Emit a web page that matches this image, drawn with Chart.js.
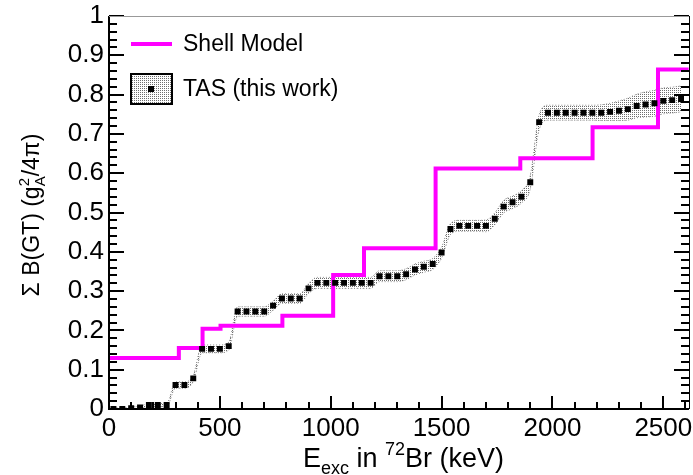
<!DOCTYPE html>
<html lang="en">
<head>
<meta charset="UTF-8">
<title>Sum B(GT) 72Br</title>
<script src="https://cdn.jsdelivr.net/npm/chart.js"></script>
<style>
  body { margin: 0; background: #fff; }
  #wrap { width: 693px; height: 475px; }
</style>
</head>
<body>
<div id="wrap"><canvas id="c" width="693" height="475"></canvas></div>
<script>
// TAS, 40 keV bins (keV)
const tasEnergy = [20, 60, 100, 140, 180, 220, 260, 300, 340, 380,
  420, 460, 500, 540, 580, 620, 660, 700, 740, 780,
  820, 860, 900, 940, 980, 1020, 1060, 1100, 1140, 1180,
  1220, 1260, 1300, 1340, 1380, 1420, 1460, 1500, 1540, 1580,
  1620, 1660, 1700, 1740, 1780, 1820, 1860, 1900, 1940, 1980,
  2020, 2060, 2100, 2140, 2180, 2220, 2260, 2300, 2340, 2380,
  2420, 2460, 2500, 2540, 2580];
const tasBgt = [0.000, 0.000, 0.002, 0.004, 0.010, 0.010, 0.010, 0.061, 0.061, 0.078,
  0.153, 0.153, 0.153, 0.160, 0.248, 0.248, 0.248, 0.248, 0.263, 0.281,
  0.281, 0.281, 0.307, 0.321, 0.321, 0.321, 0.321, 0.321, 0.321, 0.321,
  0.338, 0.338, 0.338, 0.343, 0.355, 0.362, 0.369, 0.398, 0.458, 0.466,
  0.466, 0.466, 0.466, 0.484, 0.515, 0.526, 0.540, 0.577, 0.730, 0.754,
  0.754, 0.754, 0.754, 0.754, 0.754, 0.754, 0.756, 0.759, 0.763, 0.771,
  0.775, 0.778, 0.784, 0.786, 0.789];
const tasErr = [0.003, 0.003, 0.003, 0.003, 0.004, 0.004, 0.004, 0.008, 0.008, 0.008,
  0.010, 0.010, 0.010, 0.010, 0.012, 0.012, 0.012, 0.012, 0.012, 0.012,
  0.012, 0.012, 0.013, 0.014, 0.014, 0.014, 0.014, 0.014, 0.014, 0.014,
  0.014, 0.014, 0.014, 0.014, 0.014, 0.014, 0.014, 0.014, 0.014, 0.014,
  0.014, 0.014, 0.015, 0.015, 0.016, 0.016, 0.016, 0.017, 0.019, 0.019,
  0.019, 0.019, 0.019, 0.019, 0.019, 0.020, 0.022, 0.025, 0.028, 0.030,
  0.032, 0.033, 0.033, 0.033, 0.033];

// shell model, value holds from each energy to the next
const smEnergy = [0, 315, 422, 503, 782, 1011, 1150, 1473, 1855, 2181, 2476, 2615];
const smBgt = [0.130, 0.155, 0.204, 0.212, 0.237, 0.341, 0.409, 0.612, 0.638, 0.717, 0.864, 0.864];

const xTicks = [0, 500, 1000, 1500, 2000, 2500];
const yTicks = [0, 0.1, 0.2, 0.3, 0.4, 0.5, 0.6, 0.7, 0.8, 0.9, 1];
const xRange = [0, 2615];

const FONT = '"Liberation Sans", Arial, sans-serif';

const ctx = document.getElementById('c').getContext('2d');

// ROOT-like dotted fill for the error band
function dotPattern() {
  const p = document.createElement('canvas');
  p.width = 2; p.height = 2;
  const g = p.getContext('2d');
  g.fillStyle = '#6e6e6e';
  g.fillRect(0, 0, 1, 1);
  return ctx.createPattern(p, 'repeat');
}
const bandFill = dotPattern();

const pts = (xs, ys) => xs.map((x, i) => ({ x: x, y: ys[i] }));
const tasLow = tasBgt.map((v, i) => v - tasErr[i]);
const tasHigh = tasBgt.map((v, i) => v + tasErr[i]);

// inward ticks + frame, drawn from the scales
function drawFrame(chart) {
  const c = chart.ctx, a = chart.chartArea;
  const xs = chart.scales.x, ys = chart.scales.y;
  const L = Math.round(a.left), R = Math.round(a.right), B = Math.round(a.bottom), T = Math.round(a.top);
  c.save();
  c.fillStyle = '#000';
  for (let v = 0; v <= xRange[1]; v += 100) {
    const px = Math.round(xs.getPixelForValue(v));
    const len = v % 500 === 0 ? 13 : 7;
    c.fillRect(px - 1, B - len, 2, len);
  }
  for (let k = 0; k <= 50; k++) {
    const py = Math.round(ys.getPixelForValue(k / 50));
    const len = k % 5 === 0 ? 15 : 8;
    c.fillRect(L, py - 1, len, 2);
    c.fillRect(R - len, py - 1, len, 2);
  }
  c.fillRect(L - 1, T, 2, B - T + 1);
  c.fillRect(L - 1, B - 1, R - L + 1, 2);
  c.fillRect(R, T, 1, B - T);
  c.fillStyle = '#999';
  c.fillRect(L, T, R - L, 1);
  c.restore();
}

// axis titles and legend
const labels = {
  id: 'labels',
  afterDraw(chart) {
    drawFrame(chart);
    const c = chart.ctx;
    const sm = chart.data.datasets[1], tas = chart.data.datasets[0];
    c.save();
    c.setLineDash([]);
    c.fillStyle = '#000';
    c.textBaseline = 'alphabetic';

    // x title: E_exc in 72Br (keV)
    let x = 303;
    const big = '27px ' + FONT, small = '18px ' + FONT;
    c.font = big; c.fillText('E', x, 467); x += c.measureText('E').width;
    c.font = small; c.fillText('exc', x, 474); x += c.measureText('exc').width;
    c.font = big; c.fillText(' in ', x, 467); x += c.measureText(' in ').width;
    c.font = small; c.fillText('72', x, 455); x += c.measureText('72').width;
    c.font = big; c.fillText('Br (keV)', x, 467);

    // y title: Σ B(GT) (g_A^2/4π)
    const ybig = '23px ' + FONT, ysmall = '15px ' + FONT;
    c.translate(39, 215);
    c.rotate(-Math.PI / 2);
    c.font = ybig;
    const p1 = 'Σ B(GT) (g', p3 = '/4π)';
    const w1 = c.measureText(p1).width, w3 = c.measureText(p3).width;
    c.font = ysmall;
    const w2 = Math.max(c.measureText('A').width, c.measureText('2').width);
    let t = -(w1 + w2 + w3) / 2;
    c.font = ybig; c.fillText(p1, t, 0); t += w1;
    c.font = ysmall; c.fillText('2', t, -10); c.fillText('A', t, 6); t += w2;
    c.font = ybig; c.fillText(p3, t, 0);
    c.setTransform(1, 0, 0, 1, 0, 0);

    // legend
    c.strokeStyle = sm.borderColor;
    c.lineWidth = 4;
    c.beginPath(); c.moveTo(131, 44); c.lineTo(172, 44); c.stroke();
    c.fillStyle = bandFill;
    c.fillRect(131, 74, 41, 30);
    c.strokeStyle = '#000';
    c.lineWidth = 2;
    c.strokeRect(131, 74, 41, 30);
    c.fillStyle = '#000';
    c.fillRect(148, 86, 6, 6);
    c.font = '23px ' + FONT;
    c.textBaseline = 'middle';
    c.fillText(sm.label, 183, 45);
    c.fillText(tas.label, 183, 90);
    c.restore();
  }
};

new Chart(ctx, {
  type: 'line',
  data: {
    datasets: [
      {
        label: 'TAS (this work)',
        data: pts(tasEnergy, tasBgt),
        showLine: false,
        pointStyle: 'rect',
        pointRadius: 4.2,
        backgroundColor: '#000',
        borderColor: '#000',
        borderWidth: 0,
        order: 0
      },
      {
        label: 'Shell Model',
        data: pts(smEnergy, smBgt),
        stepped: true,
        borderColor: '#ff00ff',
        borderWidth: 4,
        borderJoinStyle: 'miter',
        pointRadius: 0,
        fill: false,
        order: 1
      },
      {
        label: 'TAS low',
        data: pts(tasEnergy, tasLow),
        borderColor: '#8a8a8a',
        borderWidth: 1,
        borderDash: [1, 2],
        cubicInterpolationMode: 'monotone',
        pointRadius: 0,
        fill: false,
        order: 3
      },
      {
        label: 'TAS high',
        data: pts(tasEnergy, tasHigh),
        borderColor: '#8a8a8a',
        borderWidth: 1,
        borderDash: [1, 2],
        cubicInterpolationMode: 'monotone',
        pointRadius: 0,
        backgroundColor: bandFill,
        fill: '-1',
        order: 2
      }
    ]
  },
  options: {
    responsive: false,
    animation: false,
    events: [],
    layout: { padding: { top: 16, right: 2, left: 0, bottom: 0 } },
    plugins: { legend: { display: false }, tooltip: { enabled: false } },
    scales: {
      x: {
        type: 'linear',
        min: xRange[0],
        max: xRange[1],
        grid: { display: false, drawTicks: false },
        border: { display: false },
        afterBuildTicks: s => { s.ticks = xTicks.map(v => ({ value: v })); },
        afterFit: s => { s.height = 66; s.paddingLeft = 0; s.paddingRight = 0; },
        ticks: {
          color: '#000',
          font: { family: FONT, size: 26 },
          padding: 4,
          maxRotation: 0,
          autoSkip: false,
          callback: v => String(v)
        }
      },
      y: {
        min: 0,
        max: 1,
        grid: { display: false, drawTicks: false },
        border: { display: false },
        afterBuildTicks: s => { s.ticks = yTicks.map(v => ({ value: v })); },
        afterFit: s => { s.width = 109; s.paddingTop = 0; s.paddingBottom = 0; },
        ticks: {
          color: '#000',
          font: { family: FONT, size: 26 },
          padding: 5,
          autoSkip: false,
          callback: v => String(+v.toFixed(1))
        }
      }
    }
  },
  plugins: [labels]
});
</script>
</body>
</html>
